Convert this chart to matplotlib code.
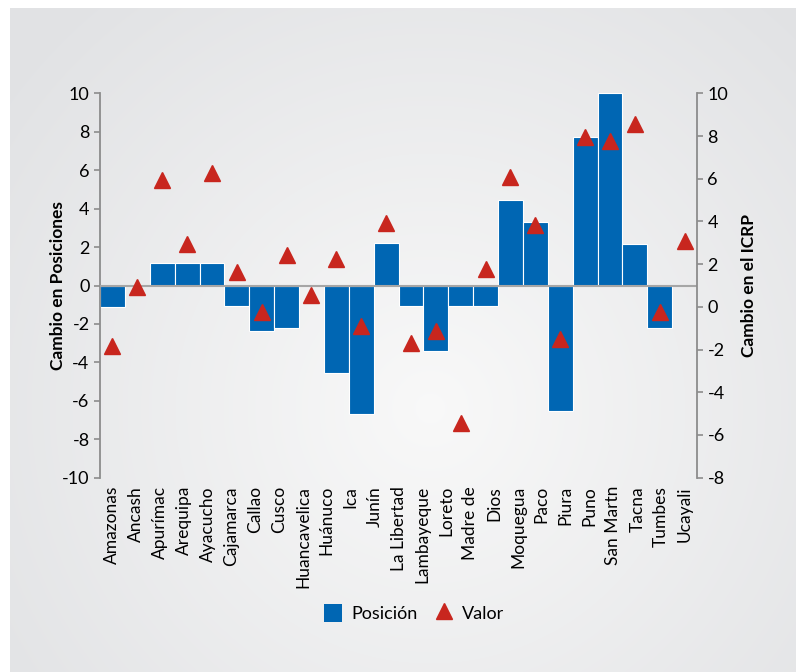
import numpy as np
import matplotlib
matplotlib.use('Agg')
import matplotlib.pyplot as plt
from matplotlib.patches import Patch
from matplotlib.lines import Line2D

plt.rcParams['font.family'] = ['Lato', 'DejaVu Sans']
plt.rcParams['axes.unicode_minus'] = False

regiones = ['Amazonas', 'Ancash', 'Apurímac', 'Arequipa', 'Ayacucho', 'Cajamarca',
            'Callao', 'Cusco', 'Huancavelica', 'Huánuco', 'Ica', 'Junín',
            'La Libertad', 'Lambayeque', 'Loreto', 'Madre de Dios', 'Moquegua',
            'Paco', 'Piura', 'Puno', 'San Martn', 'Tacna', 'Tumbes', 'Ucayali']
# etiquetas tal como salen en el grafico original (Madre de Dios partido en dos)
etiquetas = ['Amazonas', 'Ancash', 'Apurímac', 'Arequipa', 'Ayacucho', 'Cajamarca',
             'Callao', 'Cusco', 'Huancavelica', 'Huánuco', 'Ica', 'Junín',
             'La Libertad', 'Lambayeque', 'Loreto', 'Madre de', 'Dios', 'Moquegua',
             'Paco', 'Piura', 'Puno', 'San Martn', 'Tacna', 'Tumbes', 'Ucayali']
posicion = [-1.1, 0, 1.15, 1.15, 1.15, -1.05, -2.35, -2.2, 0, -4.55, -6.7, 2.2,
            -1.05, -3.4, -1.05, -1.05, 4.45, 3.3, -6.55, 7.75, 10, 2.15, -2.2, 0]
valor = [-1.85, 0.95, 5.95, 2.95, 6.25, 1.65, -0.25, 2.45, 0.55, 2.25, -0.9, 3.95,
         -1.7, -1.15, -5.45, 1.75, 6.1, 3.85, -1.5, 7.95, 7.75, 8.55, -0.25, 3.1]

W, H = 796, 672
fig = plt.figure(figsize=(W / 100, H / 100), dpi=100)

# fondo con degradado radial
bg = fig.add_axes([10 / W, 0, 1 - 10 / W, 1 - 8 / H])
yy, xx = np.mgrid[0:664, 0:786]
r = np.sqrt((xx - 420) ** 2 + (yy - 400) ** 2) / 520
r = np.clip(r, 0, 1)
c0 = np.array([0.975, 0.975, 0.975])
c1 = np.array([0.886, 0.890, 0.898])
img = c0[None, None, :] * (1 - r[..., None]) + c1[None, None, :] * r[..., None]
bg.imshow(img, aspect='auto', extent=[0, 1, 0, 1])
bg.axis('off')

ax = fig.add_axes([100 / W, 1 - 477.7 / H, 597 / W, 384.4 / H])
ax.patch.set_alpha(0)
n = len(regiones)
x = np.arange(n)
ax.bar(x, posicion, width=1.0, color='#0066b3', edgecolor='white', linewidth=0.8, zorder=2)
ax.axhline(0, color='#a6a6a6', lw=1.5, zorder=3)
ax.set_xlim(-0.5, n - 0.5)
ax.set_ylim(-10, 10)
ax.set_yticks(range(-10, 11, 2))
# las etiquetas reparten el eje en partes iguales
m = len(etiquetas)
xl = -0.5 + (np.arange(m) + 0.5) * n / m
ax.set_xticks(xl)
ax.set_xticklabels(etiquetas, rotation=90, fontsize=12.5, va='top', ha='center')
ax.tick_params(axis='x', length=0, pad=6)
ax.tick_params(axis='y', labelsize=13, length=4, color='#8c8c8c', width=1.2)
for s in ['top', 'bottom', 'right']:
    ax.spines[s].set_visible(False)
ax.spines['left'].set_color('#8c8c8c')
ax.spines['left'].set_linewidth(1.3)
ax.set_ylabel('Cambio en Posiciones', fontsize=12.5, fontweight='bold')
ax.yaxis.set_label_coords(-0.057, 0.5)

ax2 = ax.twinx()
ax2.plot(x, valor, linestyle='none', marker='^', markersize=11, color='#c8261e', zorder=4)
ax2.set_ylim(-8, 10)
ax2.set_yticks(range(-8, 11, 2))
ax2.tick_params(axis='y', labelsize=13, length=4, color='#8c8c8c', width=1.2)
for s in ['top', 'bottom', 'left']:
    ax2.spines[s].set_visible(False)
ax2.spines['right'].set_color('#8c8c8c')
ax2.spines['right'].set_linewidth(1.3)
ax2.set_ylabel('Cambio en el ICRP', fontsize=12.5, fontweight='bold')
ax2.yaxis.set_label_coords(1.074, 0.5)

handles = [Patch(facecolor='#0066b3', label='Posición'),
           Line2D([], [], linestyle='none', marker='^', markersize=11, color='#c8261e', label='Valor')]
fig.legend(handles=handles, loc='center', bbox_to_anchor=(0.52, 1 - 613 / H), ncol=2,
           frameon=False, fontsize=13, handlelength=1.0, handleheight=1.2,
           handletextpad=0.5, columnspacing=0.95)

fig.savefig('out.png', dpi=100)
